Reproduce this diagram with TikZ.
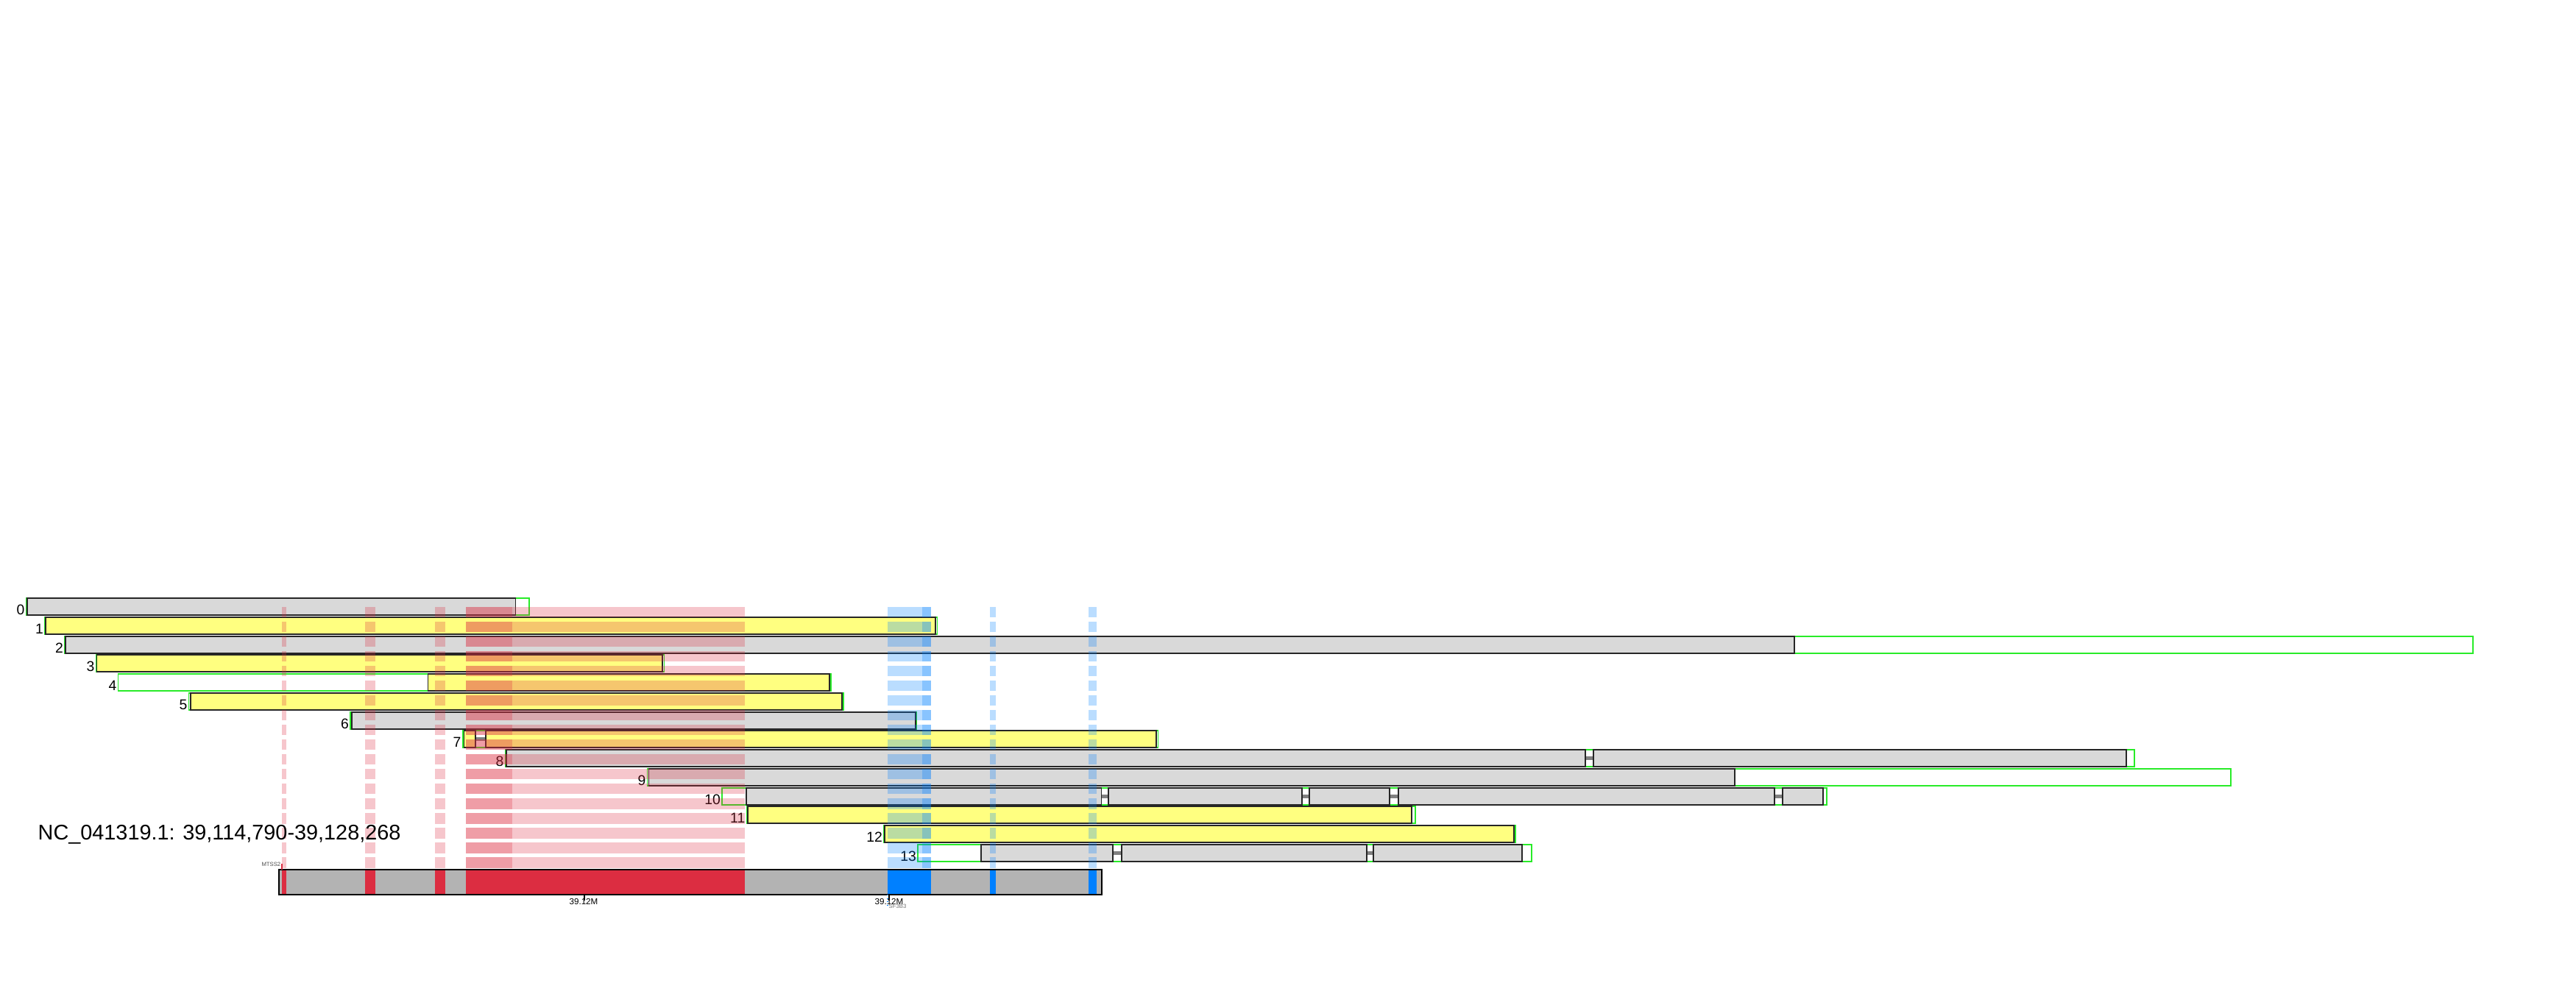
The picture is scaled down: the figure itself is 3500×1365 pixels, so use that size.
\documentclass[tikz,border=0pt]{standalone}
\usepackage{fontspec}
\setmainfont{Liberation Sans}
\definecolor{blkgrey}{RGB}{217,217,217}
\definecolor{blkyel}{RGB}{255,255,128}
\definecolor{txgreen}{RGB}{40,235,40}
\definecolor{chrgrey}{RGB}{179,179,179}
\definecolor{hlred}{RGB}{220,45,65}
\definecolor{hlblue}{RGB}{0,128,255}
\begin{document}
\begin{tikzpicture}[x=0.01cm,y=-0.01cm,
tx/.style={draw=txgreen,line width=0.45pt},
gblk/.style={fill=blkgrey,draw=black!85,line width=0.5pt},
yblk/.style={fill=blkyel,draw=black!85,line width=0.5pt},
intr/.style={draw=gray,line width=0.05cm},
lbl/.style={anchor=base east,inner sep=0,font=\fontsize{5.5}{6}\selectfont},
band/.style={dash pattern=on 0.143cm off 0.057cm,draw opacity=0.27}]
\useasboundingbox (0,0) rectangle (3500,1365);
\draw[tx] (35.7,813) rectangle (719,836);\draw[gblk] (37,813) rectangle (700.5,836);\node[lbl] (l0) at (34,835.5) {0};
\draw[tx] (61,839) rectangle (1273.5,862);\draw[yblk] (62,839) rectangle (1271,862);\node[lbl] (l1) at (59.5,861.5) {1};
\draw[tx] (88,865) rectangle (3360,888);\draw[gblk] (89,865) rectangle (2438,888);\node[lbl] (l2) at (86.5,887.5) {2};
\draw[tx] (130.5,890) rectangle (902.5,913);\draw[yblk] (131.6,890) rectangle (900,913);\node[lbl] (l3) at (129,912.5) {3};
\draw[tx] (160.7,916) rectangle (1129,939);\draw[yblk] (581.6,916) rectangle (1127,939);\node[lbl] (l4) at (159,938.5) {4};
\draw[tx] (256.6,942) rectangle (1146,965);\draw[yblk] (258.7,942) rectangle (1144,965);\node[lbl] (l5) at (255,964.5) {5};
\draw[tx] (476,968) rectangle (1245,991);\draw[gblk] (478,968) rectangle (1244,991);\node[lbl] (l6) at (474.5,990.5) {6};
\draw[tx] (629,993) rectangle (1573.5,1016);\draw[intr] (646,1004.5)--(660,1004.5);\draw[yblk] (630.5,993) rectangle (646,1016);\draw[yblk] (660,993) rectangle (1571,1016);\node[lbl] (l7) at (627,1015.5) {7};
\draw[tx] (686.7,1019) rectangle (2900,1042);\draw[intr] (2154,1030.5)--(2164.7,1030.5);\draw[gblk] (688,1019) rectangle (2154,1042);\draw[gblk] (2164.7,1019) rectangle (2889,1042);\node[lbl] (l8) at (685,1041.5) {8};
\draw[tx] (879.6,1045) rectangle (3031,1068);\draw[gblk] (881.6,1045) rectangle (2357,1068);\node[lbl] (l9) at (878,1067.5) {9};
\draw[tx] (981,1071) rectangle (2482,1094);\draw[intr] (1013.8,1082.5)--(2477,1082.5);
\draw[gblk] (1013.8,1071) rectangle (1496.4,1094);\draw[gblk] (1506,1071) rectangle (1769,1094);\draw[gblk] (1778.6,1071) rectangle (1887.8,1094);\draw[gblk] (1900,1071) rectangle (2411,1094);\draw[gblk] (2421.7,1071) rectangle (2477,1094);\node[lbl] (l10) at (979.5,1093.5) {10};
\draw[tx] (1014.5,1096) rectangle (1923,1119);\draw[yblk] (1015.8,1096) rectangle (1918,1119);\node[lbl] (l11) at (1013,1118.5) {11};
\draw[tx] (1201,1122) rectangle (2059,1145);\draw[yblk] (1202,1122) rectangle (2056.6,1145);\node[lbl] (l12) at (1199.5,1144.5) {12};
\draw[tx] (1247,1148) rectangle (2081,1171);\draw[intr] (1333,1159.5)--(2068,1159.5);
\draw[gblk] (1333,1148) rectangle (1512,1171);\draw[gblk] (1524,1148) rectangle (1857,1171);\draw[gblk] (1866,1148) rectangle (2068,1171);\node[lbl] (l13) at (1245.5,1170.5) {13};
\foreach \a/\b in {383/389,496/510,591/605,633/1012,633/696}
  \draw[band,hlred,line width=(\b-\a)*0.01cm] ({(\a+\b)/2},825)--({(\a+\b)/2},1180);
\foreach \a/\b in {1206/1265,1253/1265,1345/1353,1479/1490}
  \draw[band,hlblue,line width=(\b-\a)*0.01cm] ({(\a+\b)/2},825)--({(\a+\b)/2},1180);
\node[anchor=base west,inner sep=0,font=\fontsize{8.2}{10}\selectfont] (ttl) at (51,1141) {NC\_041319.1: 39,114,790-39,128,268};
\fill[chrgrey] (379,1182) rectangle (1497,1216);
\foreach \a/\b in {383/389,496/510,591/605,633/1012} \fill[hlred] (\a,1182) rectangle (\b,1216);
\foreach \a/\b in {1206/1265,1345/1353,1479/1490} \fill[hlblue] (\a,1182) rectangle (\b,1216);
\draw[line width=0.75pt] (379,1182) rectangle (1497,1216);
\draw[hlred,line width=0.3pt] (383,1174)--(383,1182);\node[anchor=base east,inner sep=0,text=black!70,font=\fontsize{2.2}{3}\selectfont] (mtss) at (382,1177) {MTSS2};
\draw[line width=0.3pt] (794,1216)--(794,1224);\node[anchor=base,inner sep=0,font=\fontsize{3.3}{4}\selectfont] (ax1) at (793,1229) {39.12M};
\draw[line width=0.3pt] (1208,1216)--(1208,1224);\node[anchor=base,inner sep=0,font=\fontsize{3.3}{4}\selectfont] (ax2) at (1208,1229) {39.12M};
\draw[hlblue,densely dotted,line width=0.3pt] (1206,1216)--(1206,1231);\node[anchor=base west,inner sep=0,text=black!55,font=\fontsize{2.2}{3}\selectfont] (sf3b) at (1207,1234) {SF3B3};
\end{tikzpicture}
\end{document}
